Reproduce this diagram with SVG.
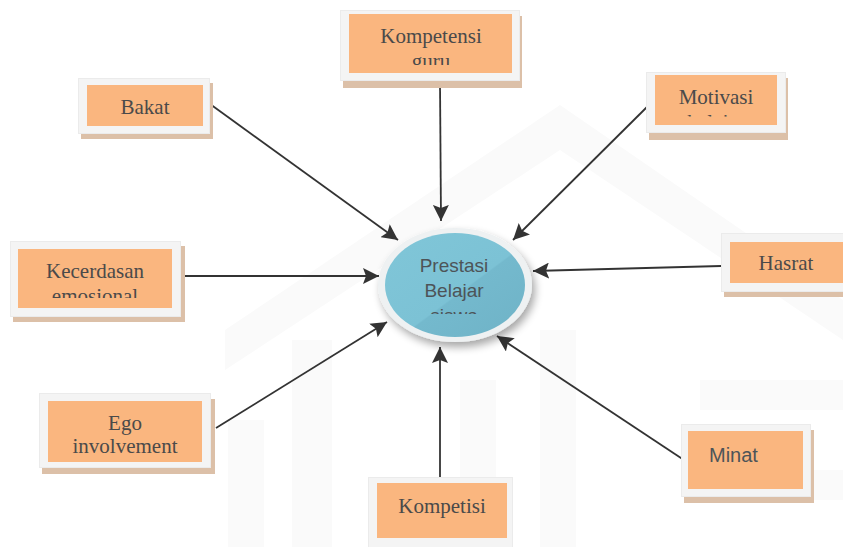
<svg xmlns="http://www.w3.org/2000/svg" width="843" height="547" viewBox="0 0 843 547">
<defs>
<style>
.frame{fill:#f4f4f4;stroke:#ebebeb;stroke-width:1}
.shadow{fill:#dcc0a8}
.box{fill:#fab67f}
.t{font-family:"Liberation Serif","Times New Roman",serif;font-size:21px;fill:#4a4a4a;text-anchor:middle}
.s{font-family:"Liberation Sans",Arial,sans-serif;fill:#4d5458}
.wm{fill:#fafafa}
.con{stroke:#333;stroke-width:1.8;fill:none;marker-end:url(#ah)}
</style>
<marker id="ah" markerUnits="userSpaceOnUse" markerWidth="17" markerHeight="16" refX="16" refY="8" orient="auto">
<path d="M0,0 L16,8 L0,16 L3,8 Z" fill="#333"/>
</marker>
<linearGradient id="blue" x1="0" y1="0" x2="1" y2="1">
<stop offset="0" stop-color="#80c6d8"/>
<stop offset="0.55" stop-color="#7cc2d5"/>
<stop offset="0.56" stop-color="#74b9cd"/>
<stop offset="1" stop-color="#6fb3c7"/>
</linearGradient>
<filter id="sh" x="-20%" y="-20%" width="140%" height="150%">
<feGaussianBlur in="SourceAlpha" stdDeviation="4"/>
<feOffset dx="3" dy="5" result="b"/>
<feComponentTransfer><feFuncA type="linear" slope="0.35"/></feComponentTransfer>
<feMerge><feMergeNode/><feMergeNode in="SourceGraphic"/></feMerge>
</filter>
<clipPath id="c1"><rect x="340" y="10" width="180" height="55"/></clipPath>
<clipPath id="c2"><rect x="647" y="72" width="140" height="44.5"/></clipPath>
<clipPath id="c3"><rect x="10" y="241" width="171" height="57"/></clipPath>
<clipPath id="c4"><rect x="39" y="393" width="172" height="60"/></clipPath>
<clipPath id="c5"><rect x="380" y="228" width="150" height="86"/></clipPath>
</defs>
<rect width="843" height="547" fill="#ffffff"/>
<g id="watermark">
<polygon class="wm" points="225,330 560,105 843,300 843,340 560,150 225,370"/>
<rect class="wm" x="228" y="420" width="36" height="127"/>
<rect class="wm" x="292" y="340" width="40" height="207"/>
<rect class="wm" x="460" y="380" width="36" height="167"/>
<rect class="wm" x="540" y="330" width="36" height="217"/>
<rect class="wm" x="700" y="380" width="143" height="30"/>
<rect class="wm" x="700" y="470" width="143" height="30"/>
</g>
<g id="connectors">
<line class="con" x1="210" y1="104" x2="398" y2="240"/>
<line class="con" x1="440" y1="82" x2="441" y2="221"/>
<line class="con" x1="651" y1="103" x2="513" y2="240"/>
<line class="con" x1="183" y1="276" x2="379" y2="276"/>
<line class="con" x1="721" y1="266" x2="533" y2="271"/>
<line class="con" x1="216" y1="428" x2="387" y2="322"/>
<line class="con" x1="440" y1="478" x2="440" y2="347"/>
<line class="con" x1="690" y1="464" x2="497" y2="336"/>
</g>
<g id="prestasi">
<ellipse cx="455" cy="285" rx="77" ry="57" fill="#eef1f2" filter="url(#sh)"/>
<ellipse cx="455" cy="285" rx="70" ry="52" fill="url(#blue)"/>
<g clip-path="url(#c5)">
<text class="s" x="454" y="272" font-size="19" text-anchor="middle">Prestasi</text>
<text class="s" x="454" y="297" font-size="19" text-anchor="middle">Belajar</text>
<text class="s" x="454" y="322" font-size="19" text-anchor="middle">siswa</text>
</g>
</g>
<g id="kompetensi">
<rect class="shadow" x="343" y="16" width="179" height="72"/>
<rect class="frame" x="340.5" y="10.5" width="179" height="70"/>
<rect class="box" x="349" y="14" width="163" height="59"/>
<g clip-path="url(#c1)">
<text class="t" x="431" y="43">Kompetensi</text>
<text class="t" x="431" y="68">guru</text>
</g>
</g>
<g id="bakat">
<rect class="shadow" x="81" y="83" width="132" height="56"/>
<rect class="frame" x="78.5" y="78.5" width="131" height="55"/>
<rect class="box" x="87" y="85" width="116" height="41"/>
<text class="t" x="145" y="114">Bakat</text>
</g>
<g id="motivasi">
<rect class="shadow" x="649" y="78" width="139" height="62"/>
<rect class="frame" x="646.5" y="72.5" width="139" height="60"/>
<rect class="box" x="655" y="75" width="122" height="50"/>
<g clip-path="url(#c2)">
<text class="t" x="716" y="104">Motivasi</text>
<text class="t" x="716" y="129">belajar</text>
</g>
</g>
<g id="kecerdasan">
<rect class="shadow" x="13" y="246" width="172" height="76"/>
<rect class="frame" x="10.5" y="241.5" width="170" height="75"/>
<rect class="box" x="18" y="249" width="154" height="59"/>
<g clip-path="url(#c3)">
<text class="t" x="95" y="278">Kecerdasan</text>
<text class="t" x="95" y="303">emosional</text>
</g>
</g>
<g id="hasrat">
<rect class="shadow" x="724" y="238" width="125" height="59"/>
<rect class="frame" x="721.5" y="233.5" width="125" height="58"/>
<rect class="box" x="730" y="242" width="113" height="41"/>
<text class="t" x="786" y="270">Hasrat</text>
</g>
<g id="ego">
<rect class="shadow" x="42" y="399" width="173" height="75"/>
<rect class="frame" x="39.5" y="393.5" width="171" height="74"/>
<rect class="box" x="48" y="401" width="154" height="61"/>
<g clip-path="url(#c4)">
<text class="t" x="125" y="430">Ego</text>
<text class="t" x="125" y="453">involvement</text>
</g>
</g>
<g id="minat">
<rect class="shadow" x="684" y="430" width="130" height="73"/>
<rect class="frame" x="681.5" y="424.5" width="129" height="72"/>
<rect class="box" x="688" y="431" width="115" height="58"/>
<text class="s" x="709" y="462" font-size="20">Minat</text>
</g>
<g id="kompetisi">
<rect class="frame" x="368.5" y="477.5" width="144" height="72"/>
<rect class="box" x="377" y="483" width="130" height="55"/>
<text class="t" x="442" y="513">Kompetisi</text>
</g>
</svg>
